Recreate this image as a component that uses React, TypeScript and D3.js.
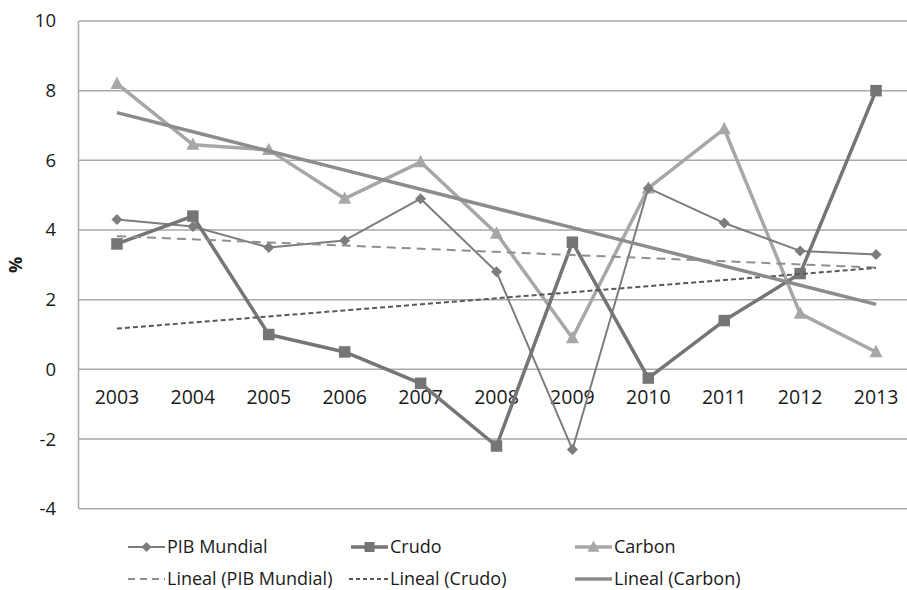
import React from "react";
import * as d3 from "d3";

const years = ["2003","2004","2005","2006","2007","2008","2009","2010","2011","2012","2013"];
const pibMundial = [4.3, 4.1, 3.5, 3.7, 4.9, 2.8, -2.3, 5.2, 4.2, 3.4, 3.3];
const crudo = [3.6, 4.4, 1.0, 0.5, -0.4, -2.2, 3.65, -0.25, 1.4, 2.75, 8.0];
const carbon = [8.2, 6.45, 6.3, 4.9, 5.95, 3.9, 0.9, 5.2, 6.9, 1.6, 0.5];
const yTicks = [-4, -2, 0, 2, 4, 6, 8, 10];

const W = 907, H = 590;
const FONT = "'Open Sans', 'Liberation Sans', sans-serif";

function trend(vals: number[]) {
  const n = vals.length;
  const xm = (n - 1) / 2;
  const ym = d3.mean(vals) as number;
  let sxy = 0, sxx = 0;
  vals.forEach((v, i) => { sxy += (i - xm) * (v - ym); sxx += (i - xm) * (i - xm); });
  const b = sxy / sxx;
  const a = ym - b * xm;
  return vals.map((_, i) => a + b * i);
}

export default function App() {
  const x = d3.scalePoint<string>().domain(years).range([79, 914]).padding(0.5);
  const y = d3.scaleLinear().domain([-4, 10]).range([508.7, 21]);
  const line = d3.line<number>().x((_, i) => x(years[i]) as number).y(d => y(d));

  const diamond = (cx: number, cy: number, r = 5.5) =>
    `M${cx},${cy - r}L${cx + r},${cy}L${cx},${cy + r}L${cx - r},${cy}Z`;
  const square = (cx: number, cy: number, s = 11.5) =>
    `M${cx - s / 2},${cy - s / 2}h${s}v${s}h${-s}Z`;
  const tri = (cx: number, cy: number, s = 13) =>
    `M${cx},${cy - s * 0.55}L${cx + s / 2},${cy + s * 0.4}L${cx - s / 2},${cy + s * 0.4}Z`;

  const cPib = "#7d7d7f", cCrudo = "#757577", cCarbon = "#a7a7a7";

  const legendRow1 = [
    { label: "PIB Mundial", x0: 128, kind: "pib" },
    { label: "Crudo", x0: 351, kind: "crudo" },
    { label: "Carbon", x0: 575, kind: "carbon" },
  ];
  const legendRow2 = [
    { label: "Lineal (PIB Mundial)", x0: 128, kind: "tpib" },
    { label: "Lineal (Crudo)", x0: 351, kind: "tcrudo" },
    { label: "Lineal (Carbon)", x0: 575, kind: "tcarbon" },
  ];

  const legendSym = (kind: string, x0: number, cy: number) => {
    const x1 = x0 + 37, mx = x0 + 18.5;
    switch (kind) {
      case "pib":
        return <g><line x1={x0} x2={x1} y1={cy} y2={cy} stroke={cPib} strokeWidth={2} /><path d={diamond(mx, cy, 5)} fill={cPib} /></g>;
      case "crudo":
        return <g><line x1={x0} x2={x1} y1={cy} y2={cy} stroke={cCrudo} strokeWidth={3.5} /><path d={square(mx, cy, 10)} fill={cCrudo} /></g>;
      case "carbon":
        return <g><line x1={x0} x2={x1} y1={cy} y2={cy} stroke={cCarbon} strokeWidth={3.5} /><path d={tri(mx, cy, 12)} fill={cCarbon} /></g>;
      case "tpib":
        return <line x1={x0} x2={x1} y1={cy} y2={cy} stroke="#8f8f8f" strokeWidth={2} strokeDasharray="7,5" />;
      case "tcrudo":
        return <line x1={x0 - 2} x2={x1} y1={cy} y2={cy} stroke="#595959" strokeWidth={2} strokeDasharray="4,3" />;
      default:
        return <line x1={x0} x2={x1} y1={cy} y2={cy} stroke="#8c8c8c" strokeWidth={3.5} />;
    }
  };

  return (
    <svg width={W} height={H} style={{ position: "absolute", left: 0, top: 0, background: "#fff" }} fontFamily={FONT}>
      {yTicks.map(t => (
        <g key={t}>
          <line x1={79} x2={W} y1={y(t)} y2={y(t)} stroke="#a9a9a9" strokeWidth={1.5} />
          <text x={56} y={y(t)} dy="0.35em" textAnchor="end" fontSize={18.5} fill="#1a1a1a">{t}</text>
        </g>
      ))}
      <line x1={78.5} x2={78.5} y1={y(10)} y2={y(-4)} stroke="#a9a9a9" strokeWidth={1.5} />
      {years.map(yr => (
        <text key={yr} x={x(yr)} y={404} textAnchor="middle" fontSize={19.5} fill="#1a1a1a">{yr}</text>
      ))}
      <text transform="translate(22,265) rotate(-90)" textAnchor="middle" fontSize={18} fontWeight="bold" fill="#1a1a1a">%</text>

      {/* series */}
      <path d={line(carbon) as string} fill="none" stroke={cCarbon} strokeWidth={3.5} strokeLinejoin="round" />
      {carbon.map((v, i) => <path key={"ca" + i} d={tri(x(years[i]) as number, y(v))} fill={cCarbon} />)}
      <path d={line(pibMundial) as string} fill="none" stroke={cPib} strokeWidth={2} strokeLinejoin="round" />
      {pibMundial.map((v, i) => <path key={"p" + i} d={diamond(x(years[i]) as number, y(v))} fill={cPib} />)}
      <path d={line(crudo) as string} fill="none" stroke={cCrudo} strokeWidth={3.5} strokeLinejoin="round" />
      {crudo.map((v, i) => <path key={"c" + i} d={square(x(years[i]) as number, y(v))} fill={cCrudo} />)}

      {/* trend lines */}
      <path d={line(trend(pibMundial)) as string} fill="none" stroke="#8f8f8f" strokeWidth={2} strokeDasharray="9,6" />
      <path d={line(trend(crudo)) as string} fill="none" stroke="#595959" strokeWidth={2} strokeDasharray="5,3" />
      <path d={line(trend(carbon)) as string} fill="none" stroke="#8c8c8c" strokeWidth={3.5} />

      {/* legend */}
      {legendRow1.map(l => (
        <g key={l.label}>
          {legendSym(l.kind, l.x0, 547)}
          <text x={l.x0 + 39} y={547} dy="0.35em" fontSize={18} fill="#1a1a1a">{l.label}</text>
        </g>
      ))}
      {legendRow2.map(l => (
        <g key={l.label}>
          {legendSym(l.kind, l.x0, 579)}
          <text x={l.x0 + 39} y={579} dy="0.35em" fontSize={18} fill="#1a1a1a">{l.label}</text>
        </g>
      ))}
    </svg>
  );
}
